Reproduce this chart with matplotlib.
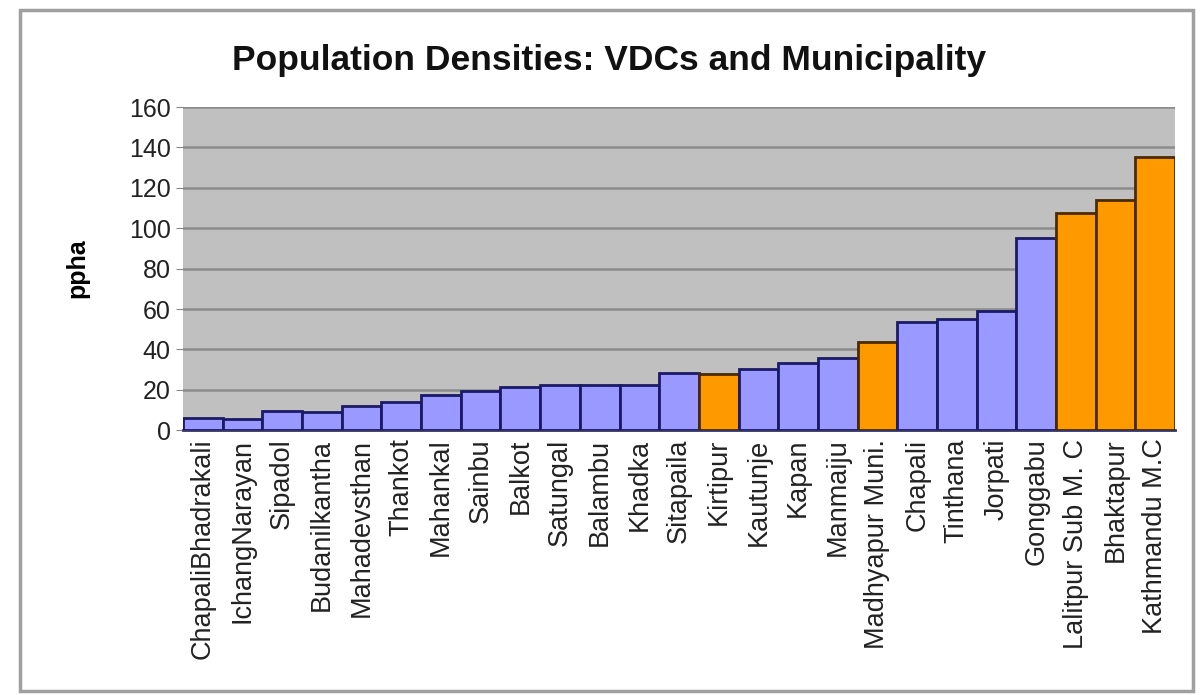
# population density bar chart: VDCs vs municipalities
import matplotlib
matplotlib.use("Agg")
import matplotlib.pyplot as plt
import matplotlib.patches as patches

plt.rcParams['font.family'] = ['Liberation Sans', 'DejaVu Sans']

# place names, sorted by density
places = ['ChapaliBhadrakali', 'IchangNarayan', 'Sipadol', 'Budanilkantha',
          'Mahadevsthan', 'Thankot', 'Mahankal', 'Sainbu', 'Balkot', 'Satungal',
          'Balambu', 'Khadka', 'Sitapaila', 'Kirtipur', 'Kautunje', 'Kapan',
          'Manmaiju', 'Madhyapur Muni.', 'Chapali', 'Tinthana', 'Jorpati',
          'Gonggabu', 'Lalitpur Sub M. C', 'Bhaktapur', 'Kathmandu M.C']
# persons per hectare
ppha = [5.8, 5.5, 9.6, 9.2, 11.9, 14.1, 17.4, 19.6, 21.2, 22.4,
        22.4, 22.2, 28.2, 27.8, 30.5, 33.3, 35.8, 43.7, 53.8, 55.3,
        59.2, 95.3, 107.5, 114.2, 135.5]
# 1 = municipality (orange), 0 = VDC (blue)
is_muni = [0, 0, 0, 0, 0, 0, 0, 0, 0, 0, 0, 0, 0, 1, 0, 0, 0, 1, 0, 0,
           0, 0, 1, 1, 1]
yticks = [0, 20, 40, 60, 80, 100, 120, 140, 160]

fill = ['#FF9900' if m else '#9999FF' for m in is_muni]
edge = ['#4A2A00' if m else '#1A1A66' for m in is_muni]

fig = plt.figure(figsize=(12.04, 6.95), dpi=100)
ax = fig.add_axes([0.152, 0.381, 0.824, 0.465])
ax.set_facecolor('#C0C0C0')

x = list(range(len(places)))
ax.bar(x, ppha, width=1.0, color=fill, edgecolor=edge, linewidth=2, zorder=3)

ax.set_xlim(-0.5, len(places) - 0.5)
ax.set_ylim(0, 160)
ax.set_yticks(yticks)
ax.set_yticklabels([str(t) for t in yticks], fontsize=18, color='#222222')
ax.set_xticks(x)
ax.set_xticklabels(places, rotation=90, fontsize=19.5, color='#222222')
ax.tick_params(axis='x', length=0, pad=6)
ax.tick_params(axis='y', length=5, color='#888888', pad=4)
ax.grid(axis='y', color='#8C8C8C', linewidth=1.8, zorder=0)

for s in ['top', 'right', 'left']:
    ax.spines[s].set_visible(False)
ax.spines['bottom'].set_color('#333366')
ax.spines['bottom'].set_linewidth(2)

ax.set_ylabel('ppha', fontsize=18, fontweight='bold', labelpad=28)
fig.text(0.506, 0.913, 'Population Densities: VDCs and Municipality',
         fontsize=25.5, fontweight='bold', ha='center', va='center', color='#111111')

# grey frame around the whole chart
fig.patches.append(patches.Rectangle((0.017, 0.006), 0.974, 0.98,
                                     transform=fig.transFigure, fill=False,
                                     edgecolor='#A0A0A0', linewidth=2.5))

fig.savefig('out.png', dpi=100)
